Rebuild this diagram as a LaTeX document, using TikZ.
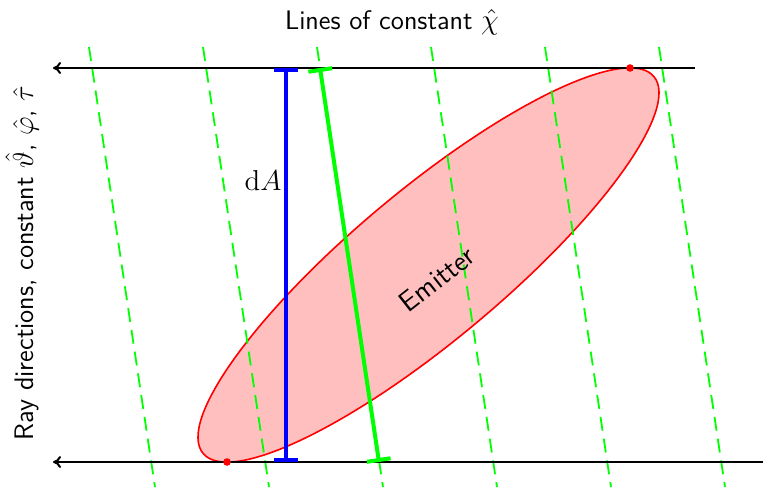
\documentclass[tikz,border=0pt]{standalone}
\usetikzlibrary{arrows.meta,shapes.geometric}
\begin{document}
\begin{tikzpicture}[x=0.5pt,y=0.5pt,
  ray/.style={line width=1pt,-{To[length=4pt,width=6pt]}},
  guide/.style={draw={rgb,255:red,0;green,255;blue,0},line width=0.9pt,dash pattern=on 7pt off 4pt},
  dot/.style={circle,fill=red,inner sep=0pt,minimum size=3.8pt},
  lbl/.style={font=\sffamily\fontsize{13.4}{15}\selectfont},
  barblue/.style={draw={rgb,255:red,0;green,0;blue,255},line width=2pt,{Bar[width=12pt,line width=2pt]}-{Bar[width=12pt,line width=2pt]}},
  bargreen/.style={draw={rgb,255:red,0;green,255;blue,0},line width=2pt,{Bar[width=12pt,line width=2pt]}-{Bar[width=12pt,line width=2pt]}}]
\useasboundingbox (0,0) rectangle (763,-487);
% emitter
\node[ellipse,draw=red,line width=0.8pt,fill=red!25,inner sep=0pt,
  minimum width=293.8pt,minimum height=75.1pt,rotate=39.9] (emitter) at (428.5,-265) {};
% dashed lines of constant chi
\foreach \k in {0,...,5}{
  \coordinate (gt\k) at ({89+114*\k},-47);
  \coordinate (gb\k) at ({155+114*\k},-487);
  \draw[guide] (gt\k) -- (gb\k);
}
% rays
\coordinate (t0) at (695,-68);
\coordinate (t1) at (53,-68);
\coordinate (b0) at (763,-462);
\coordinate (b1) at (53,-462);
\draw[ray] (t0) -- (t1);
\draw[ray] (b0) -- (b1);
% blue dA
\coordinate (bt) at (286,-68);
\coordinate (bb) at (286,-462);
\draw[barblue] (bt) -- (bb);
% green
\coordinate (gt) at (320,-68);
\coordinate (gbb) at (379,-462);
\draw[bargreen] (gt) -- (gbb);
% tangent points
\node[dot] (p1) at (227,-462) {};
\node[dot] (p2) at (630,-68) {};
% labels
\node[lbl] (title) at (392,-22) {Lines of constant $\hat\chi$};
\node[lbl,rotate=90] (side) at (22,-263) {Ray directions, constant $\hat\vartheta$, $\hat\varphi$, $\hat\tau$};
\node[font=\fontsize{14.5}{16}\selectfont] (da) at (263,-180) {$\mathrm{d}A$};
\node[font=\sffamily\fontsize{14.2}{16}\selectfont,rotate=38] (em) at (437,-279) {Emitter};
\end{tikzpicture}
\end{document}
